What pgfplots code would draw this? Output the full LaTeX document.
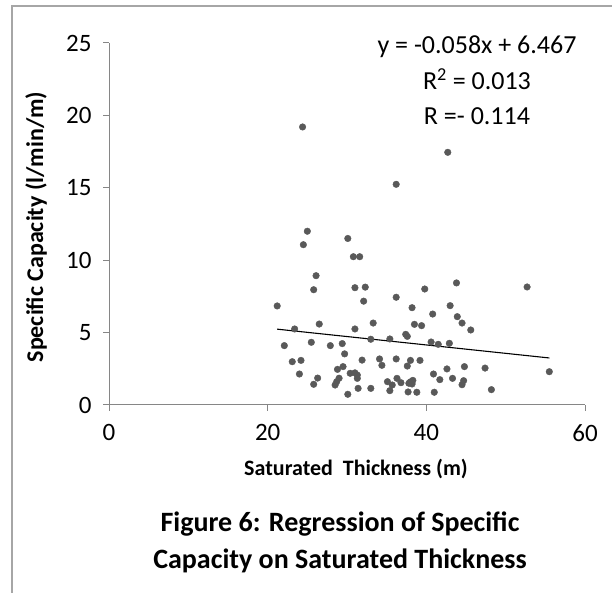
\documentclass[border=0pt]{standalone}
\usepackage{fontspec}
\setmainfont{Carlito}
\usepackage{pgfplots}
\pgfplotsset{compat=1.18}
\definecolor{axgray}{HTML}{868686}
\definecolor{dotgray}{HTML}{595959}

\pgfplotstableread{
x y
24.4 19.2
42.7 17.45
36.2 15.24
25.0 12.0
24.5 11.07
30.1 11.5
30.8 10.24
31.6 10.24
26.1 8.93
25.8 7.96
31.0 8.1
32.3 8.14
32.1 7.17
21.2 6.84
26.5 5.59
23.4 5.25
31.0 5.25
22.1 4.10
25.5 4.33
27.9 4.10
29.4 4.24
29.7 3.53
31.9 3.10
23.1 2.99
24.2 3.08
24.0 2.14
26.3 1.86
25.8 1.43
28.8 2.46
29.5 2.65
30.4 2.19
31.0 2.22
31.3 2.07
28.5 1.38
28.7 1.61
29.0 1.85
30.1 0.74
31.4 1.15
31.3 1.84
34.1 3.18
34.4 2.74
36.2 3.18
37.6 2.69
33.0 1.15
35.1 1.61
35.7 1.38
35.4 0.99
36.3 1.84
36.8 1.54
37.8 1.50
37.7 0.90
33.0 4.54
36.2 7.44
39.8 8.01
43.8 8.43
38.2 6.72
43.0 6.86
40.8 6.28
43.9 6.10
33.3 5.66
38.5 5.57
39.4 5.48
37.4 4.88
37.6 4.74
35.4 4.56
40.6 4.35
41.5 4.19
42.9 4.26
38.0 3.08
39.2 3.08
40.9 2.14
41.7 1.75
42.6 2.49
43.3 1.84
38.0 1.60
38.2 1.45
38.3 1.70
38.8 0.88
41.0 0.88
52.7 8.15
44.5 5.66
45.6 5.18
44.8 2.65
47.4 2.55
55.5 2.30
44.7 1.68
44.5 1.40
48.2 1.06
}\scdata

\begin{document}
\begin{tikzpicture}[x=1bp,y=1bp]
\path[use as bounding box] (0,0) rectangle (612,593);
\fill[white] (0,0) rectangle (612,593);
\draw[gray!70, line width=1.5bp] (12,0) -- (12,587) -- (612,587);

\begin{axis}[
    at={(109bp,188bp)}, anchor=south west,
    scale only axis, width=476bp, height=362bp,
    xmin=0, xmax=60, ymin=0, ymax=25,
    axis lines=left,
    axis line style={-, draw=axgray, line width=1bp},
    tick align=outside, major tick length=6bp,
    tick style={draw=axgray, line width=1bp},
    xtick={0,20,40,60}, ytick={0,5,10,15,20,25},
    tick label style={font=\fontsize{25bp}{30bp}\selectfont, text=black},
    /pgf/number format/assume math mode=true,
    xticklabel style={yshift=-10bp},
    yticklabel style={xshift=-8bp},
    clip=false,
]
\addplot[only marks, mark=*, mark size=3.3bp, mark options={fill=dotgray, draw=dotgray}] table[x=x, y=y] {\scdata};
\addplot[black, line width=1.1bp, no marks] coordinates {(21.2,5.237) (55.5,3.248)};
\end{axis}

\node[anchor=base, font=\fontsize{26bp}{30bp}\selectfont] at (477,539) {y = -0.058x + 6.467};
\node[anchor=base, font=\fontsize{26bp}{30bp}\selectfont] at (477,503) {R\textsuperscript{2} = 0.013};
\node[anchor=base, font=\fontsize{26bp}{30bp}\selectfont] at (477,468) {R =- 0.114};

\node[font=\bfseries\fontsize{22bp}{24bp}\selectfont] at (356,124) {Saturated\ \ Thickness (m)};
\node[rotate=90, font=\bfseries\fontsize{24bp}{26bp}\selectfont] at (36,366) {Specific Capacity (l/min/m)};
\node[font=\bfseries\fontsize{28bp}{30bp}\selectfont] at (340,69) {Figure 6: Regression of Specific};
\node[font=\bfseries\fontsize{28bp}{30bp}\selectfont] at (340,32) {Capacity on Saturated Thickness};
\end{tikzpicture}
\end{document}
